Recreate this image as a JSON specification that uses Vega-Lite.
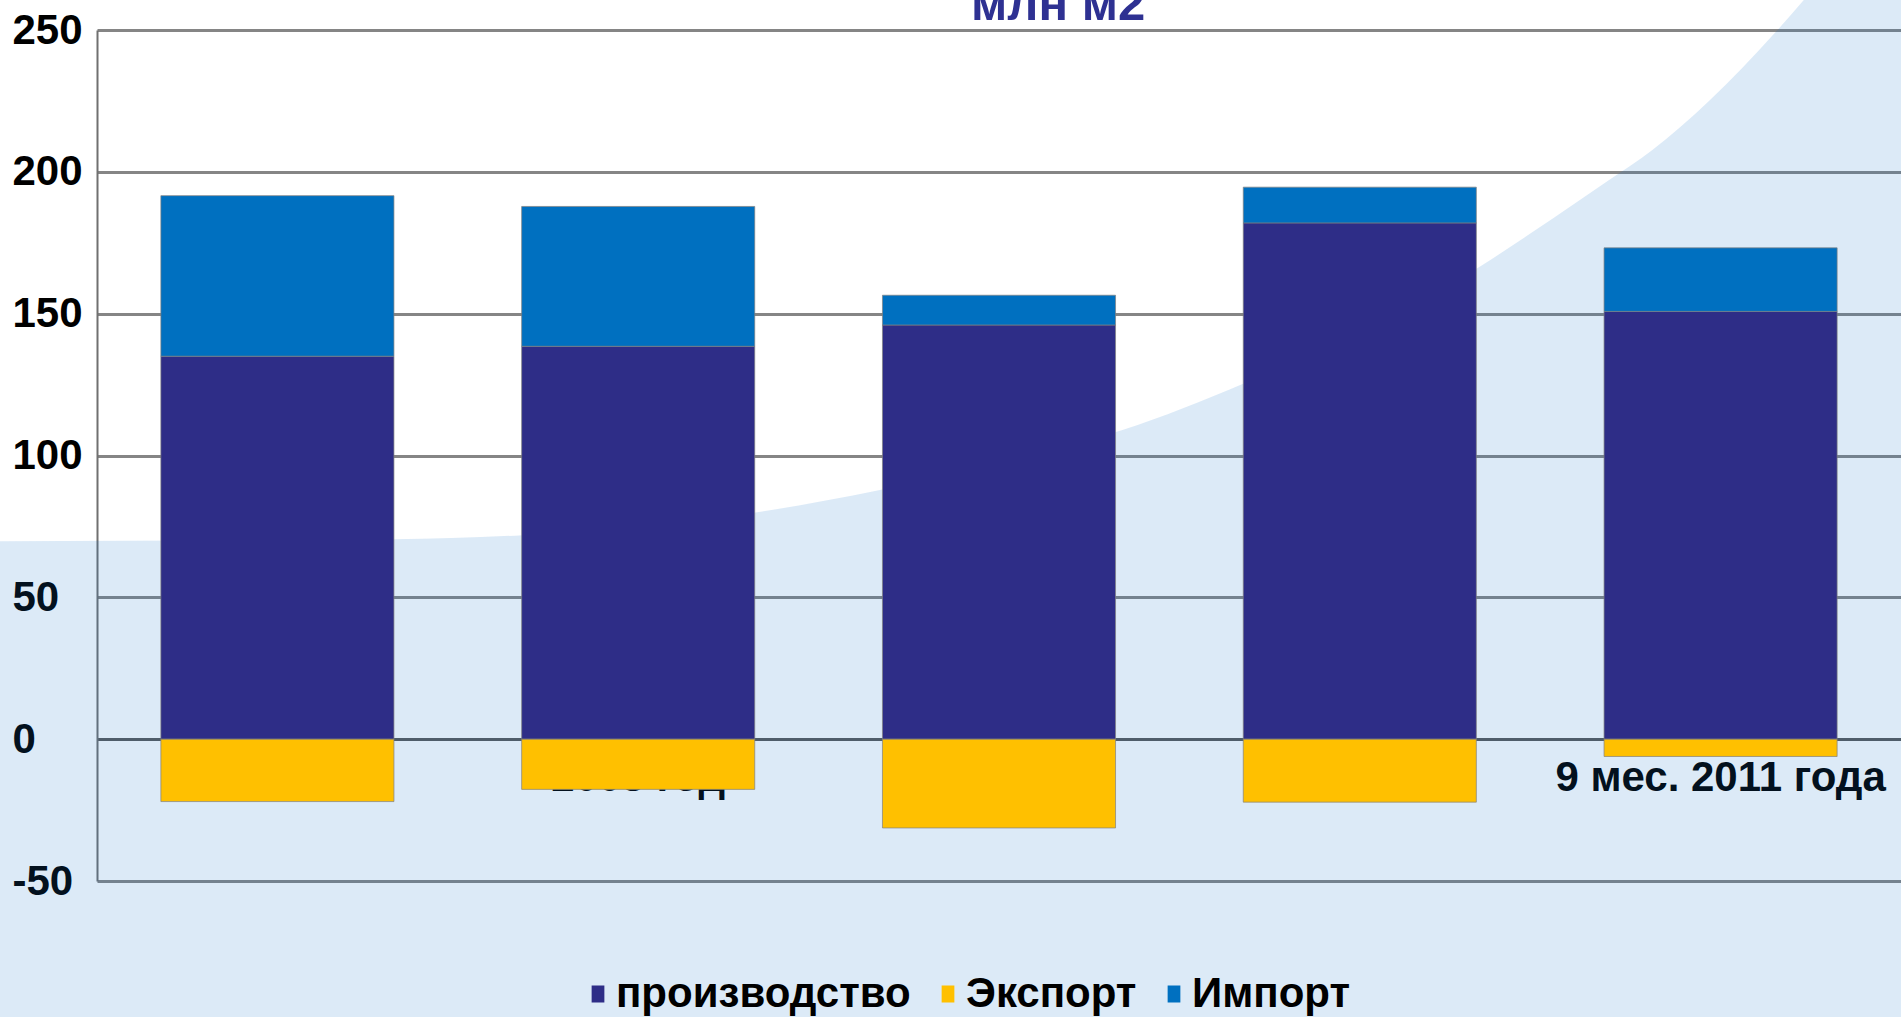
{
  "$schema": "https://vega.github.io/schema/vega-lite/v6.json",
  "autosize": {"type": "none"},
  "width": 1804,
  "height": 851,
  "padding": {"left": 97, "top": 30, "right": 0, "bottom": 136},
  "background": "#ffffff",
  "config": {"view": {"stroke": null}, "font": "Liberation Sans"},
  "datasets": {
    "volumes": [
      {"period": "2007 год", "series": "производство", "value": 135},
      {"period": "2007 год", "series": "Импорт", "value": 56.6},
      {"period": "2007 год", "series": "Экспорт", "value": -22},
      {"period": "2008 год", "series": "производство", "value": 138.5},
      {"period": "2008 год", "series": "Импорт", "value": 49.3},
      {"period": "2008 год", "series": "Экспорт", "value": -17.7},
      {"period": "2009 год", "series": "производство", "value": 146},
      {"period": "2009 год", "series": "Импорт", "value": 10.5},
      {"period": "2009 год", "series": "Экспорт", "value": -31.3},
      {"period": "2010 год", "series": "производство", "value": 182},
      {"period": "2010 год", "series": "Импорт", "value": 12.6},
      {"period": "2010 год", "series": "Экспорт", "value": -22.2},
      {"period": "9 мес. 2011 года", "series": "производство", "value": 150.8},
      {"period": "9 мес. 2011 года", "series": "Импорт", "value": 22.4},
      {"period": "9 мес. 2011 года", "series": "Экспорт", "value": -6.1}
    ],
    "backdrop": [
      {"pos": -0.27, "level": 69.8},
      {"pos": 0.82, "level": 70.5},
      {"pos": 1.18, "level": 71.9},
      {"pos": 1.83, "level": 80.0},
      {"pos": 2.17, "level": 87.8},
      {"pos": 2.5, "level": 97.6},
      {"pos": 2.84, "level": 108.9},
      {"pos": 3.18, "level": 125.5},
      {"pos": 3.83, "level": 166.4},
      {"pos": 4.04, "level": 184.0},
      {"pos": 4.19, "level": 197.0},
      {"pos": 4.31, "level": 207.6},
      {"pos": 4.47, "level": 225.2},
      {"pos": 4.65, "level": 248.9},
      {"pos": 4.73, "level": 260.5},
      {"pos": 4.8, "level": 271},
      {"pos": 5.05, "level": 275}
    ],
    "caption": [
      {"caption": "млн м2"}
    ]
  },
  "layer": [
    {
      "data": {"name": "backdrop"},
      "mark": {"type": "area", "fill": "#1673CA", "fillOpacity": 0.15, "interpolate": "monotone", "orient": "vertical"},
      "encoding": {
        "x": {"field": "pos", "type": "quantitative", "scale": {"domain": [0, 5], "nice": false, "zero": false}, "axis": null},
        "y": {"field": "level", "type": "quantitative", "scale": {"domain": [-50, 250], "nice": false, "zero": false}, "axis": null},
        "y2": {"datum": -100}
      }
    },
    {
      "data": {"name": "volumes"},
      "mark": {"type": "bar", "stroke": "#808080", "strokeWidth": 1, "strokeOpacity": 0.7},
      "encoding": {
        "x": {
          "field": "period",
          "type": "nominal",
          "sort": null,
          "scale": {"paddingInner": 0.354, "paddingOuter": 0.177},
          "axis": {
            "title": null,
            "orient": "bottom",
            "offset": -142,
            "domain": false,
            "ticks": false,
            "tickSize": 0,
            "grid": false,
            "labelFont": "Liberation Sans",
            "labelFontSize": 42,
            "labelFontWeight": "bold",
            "labelColor": "#000000",
            "labelAngle": 0,
            "labelPadding": 18,
            "labelBaseline": "top",
            "labelOverlap": false,
            "labelLimit": 0
          }
        },
        "y": {
          "field": "value",
          "type": "quantitative",
          "stack": "zero",
          "scale": {"domain": [-50, 250], "nice": false, "zero": false},
          "axis": {
            "title": null,
            "values": [-50, 0, 50, 100, 150, 200, 250],
            "labelExpr": "'' + datum.value",
            "labelFont": "Liberation Sans",
            "labelFontSize": 42,
            "labelFontWeight": "bold",
            "labelColor": "#000000",
            "labelAlign": "left",
            "labelBaseline": "middle",
            "labelPadding": 85,
            "labelFlush": false,
            "labelOverlap": false,
            "labelBound": false,
            "ticks": false,
            "tickSize": 0,
            "domain": true,
            "domainColor": "#707070",
            "domainWidth": 2,
            "grid": true,
            "gridColor": {"condition": {"test": "datum.value === 0", "value": "#5a5a5a"}, "value": "#858585"},
            "gridWidth": 2.8
          }
        },
        "color": {
          "field": "series",
          "type": "nominal",
          "scale": {"domain": ["производство", "Экспорт", "Импорт"], "range": ["#2E2D87", "#FFC000", "#0070C0"]},
          "legend": {
            "orient": "none",
            "legendX": 480,
            "legendY": 943,
            "direction": "horizontal",
            "title": null,
            "symbolType": "M-0.75,-1H0.75V1H-0.75Z",
            "symbolSize": 289,
            "symbolStrokeWidth": 0,
            "symbolOpacity": 1,
            "labelFont": "Liberation Sans",
            "labelFontSize": 42,
            "labelFontWeight": "bold",
            "labelColor": "#000000",
            "labelOffset": -3,
            "columnPadding": 16,
            "padding": 0,
            "labelLimit": 0
          }
        },
        "order": {"field": "series", "sort": "descending"}
      }
    },
    {
      "data": {"name": "caption"},
      "mark": {"type": "text", "font": "Liberation Sans", "fontSize": 49, "fontWeight": "bold", "color": "#2E3192", "align": "center", "baseline": "alphabetic"},
      "encoding": {
        "x": {"datum": 2.664, "type": "quantitative", "scale": {"domain": [0, 5], "nice": false, "zero": false}, "axis": null},
        "y": {"datum": 253.4, "type": "quantitative", "scale": {"domain": [-50, 250], "nice": false, "zero": false}, "axis": null},
        "text": {"field": "caption", "type": "nominal"}
      }
    }
  ],
  "resolve": {"scale": {"x": "independent", "y": "independent"}, "axis": {"x": "independent", "y": "independent"}}
}
